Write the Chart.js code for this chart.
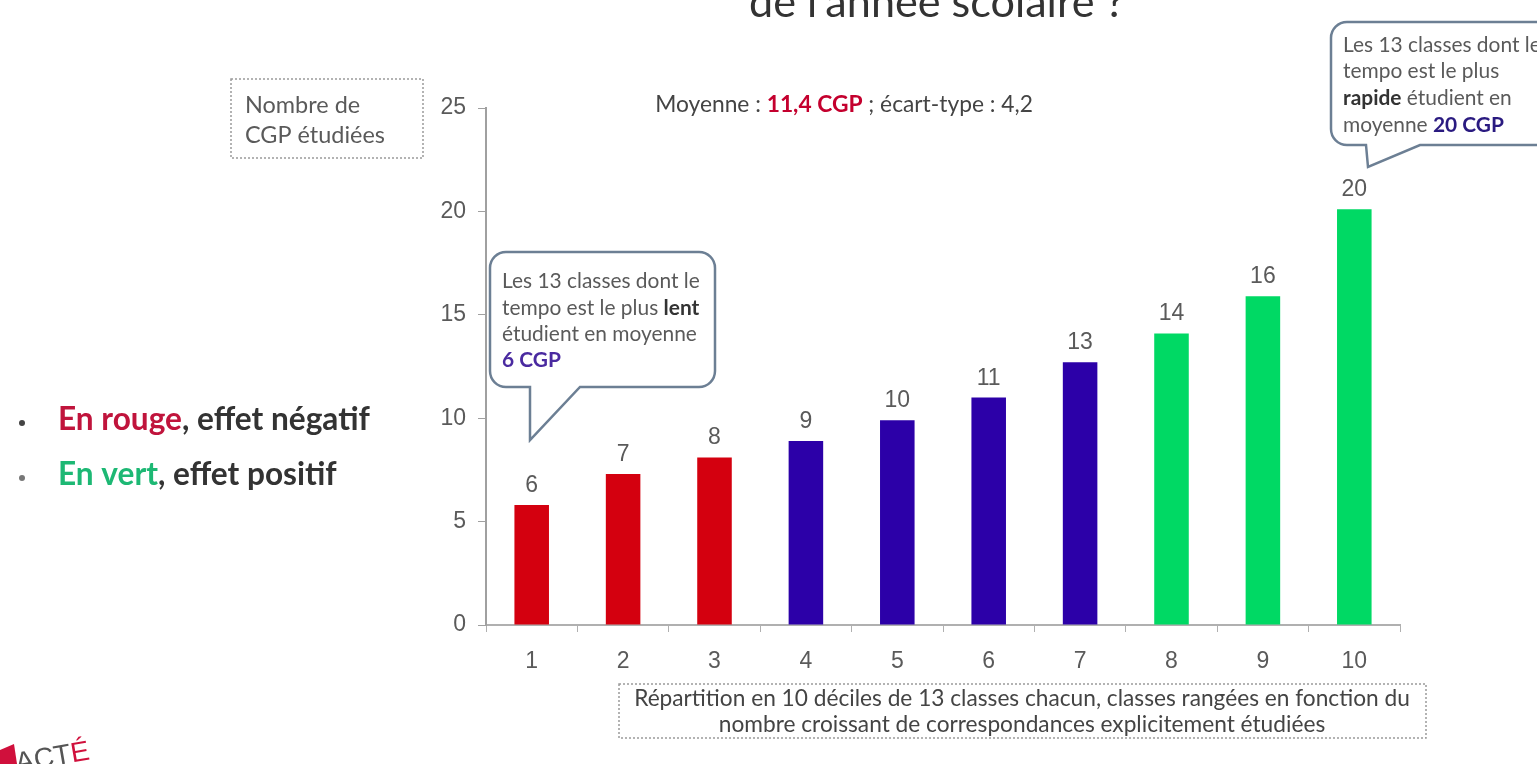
<!DOCTYPE html>
<html lang="fr">
<head>
<meta charset="utf-8">
<title>Nombre de CGP étudiées par décile</title>
<script src="https://cdn.jsdelivr.net/npm/chart.js@4.4.0/dist/chart.umd.min.js"></script>
<style>
    html, body { margin: 0; padding: 0; background: #fff; }
    #wrap { width: 1537px; height: 764px; position: relative; }
</style>
</head>
<body>
<div id="wrap"><canvas id="chart" width="1537" height="764"></canvas></div>
<script>
// data
const deciles = ['1', '2', '3', '4', '5', '6', '7', '8', '9', '10'];
const cgpValues = [5.8, 7.3, 8.1, 8.9, 9.9, 11.0, 12.7, 14.1, 15.9, 20.1];
const cgpLabels = ['6', '7', '8', '9', '10', '11', '13', '14', '16', '20'];
const decileEffects = ['neg', 'neg', 'neg', 'mid', 'mid', 'mid', 'mid', 'pos', 'pos', 'pos'];
const yMin = 0;
const yMax = 25;
const yStep = 5;

const effectColors = { neg: '#d4000f', mid: '#2c00a8', pos: '#00d964' };
const GREY = '#5a5a5a';
const DARK = '#333333';
const TEXT_FONT = 'Lato, "Open Sans", sans-serif';
const NUM_FONT = '"Liberation Sans", Arial, sans-serif';

// draws a line made of several styled runs, optionally squeezed to a width
function drawRuns(ctx, runs, x, y, size, align, fitWidth) {
    const fontOf = (r, s) => (r.bold ? 'bold ' : '') + s + 'px ' + TEXT_FONT;
    const measure = s => runs.reduce((w, r) => {
        ctx.font = fontOf(r, s);
        return w + ctx.measureText(r.t).width;
    }, 0);
    if (fitWidth) size = size * fitWidth / measure(size);
    const w = measure(size);
    let cx = align === 'center' ? x - w / 2 : (align === 'right' ? x - w : x);
    ctx.textAlign = 'left';
    ctx.textBaseline = 'alphabetic';
    runs.forEach(r => {
        ctx.font = fontOf(r, size);
        ctx.fillStyle = r.color || GREY;
        ctx.fillText(r.t, cx, y);
        cx += ctx.measureText(r.t).width;
    });
    return size;
}

function calloutPath(ctx, x, y, w, h, r, tail) {
    ctx.beginPath();
    ctx.moveTo(x + r, y);
    ctx.lineTo(x + w - r, y);
    ctx.arcTo(x + w, y, x + w, y + r, r);
    ctx.lineTo(x + w, y + h - r);
    ctx.arcTo(x + w, y + h, x + w - r, y + h, r);
    ctx.lineTo(tail.x2, y + h);
    ctx.lineTo(tail.tx, tail.ty);
    ctx.lineTo(tail.x1, y + h);
    ctx.lineTo(x + r, y + h);
    ctx.arcTo(x, y + h, x, y + h - r, r);
    ctx.lineTo(x, y + r);
    ctx.arcTo(x, y, x + r, y, r);
    ctx.closePath();
}

function dottedBox(ctx, x, y, w, h) {
    ctx.save();
    ctx.strokeStyle = '#9a9a9a';
    ctx.lineWidth = 1.5;
    ctx.setLineDash([2, 2]);
    ctx.strokeRect(x, y, w, h);
    ctx.restore();
}

const valueLabelPlugin = {
    id: 'valueLabels',
    afterDatasetsDraw(chart) {
        const ctx = chart.ctx;
        const meta = chart.getDatasetMeta(0);
        ctx.save();
        ctx.font = '23px ' + NUM_FONT;
        ctx.fillStyle = GREY;
        ctx.textAlign = 'center';
        ctx.textBaseline = 'alphabetic';
        meta.data.forEach((bar, i) => ctx.fillText(cgpLabels[i], bar.x, bar.y - 13));
        ctx.restore();
    }
};

const slideTextPlugin = {
    id: 'slideText',
    afterDraw(chart) {
        const ctx = chart.ctx;
        ctx.save();

        // title, cut by the top of the frame
        drawRuns(ctx, [{ t: "de l'année scolaire ?", color: DARK }], 749, 17, 32, 'left', 376);

        // y axis caption
        dottedBox(ctx, 231, 79, 192, 79);
        const capSize = drawRuns(ctx, [{ t: 'CGP étudiées' }], 245, 143, 18, 'left', 140);
        drawRuns(ctx, [{ t: 'Nombre de' }], 245, 113, capSize, 'left');

        // mean
        drawRuns(ctx, [
            { t: 'Moyenne : ', color: '#444' },
            { t: '11,4 CGP', bold: true, color: '#c4002e' },
            { t: ' ; écart-type : 4,2', color: '#444' }
        ], 844, 112, 22, 'center', 378);

        // callouts
        ctx.lineWidth = 2.5;
        ctx.strokeStyle = '#6c7f94';
        ctx.fillStyle = '#ffffff';
        calloutPath(ctx, 490, 252, 225, 135, 16, { x1: 530, x2: 580, tx: 530, ty: 440 });
        ctx.fill();
        ctx.stroke();
        calloutPath(ctx, 1331, 22, 260, 123, 16, { x1: 1366, x2: 1420, tx: 1368, ty: 167 });
        ctx.fill();
        ctx.stroke();

        const cs = drawRuns(ctx, [{ t: 'Les 13 classes dont le' }], 502, 288, 17, 'left', 198);
        drawRuns(ctx, [{ t: 'tempo est le plus ' }, { t: 'lent', bold: true, color: DARK }], 502, 315, cs, 'left');
        drawRuns(ctx, [{ t: 'étudient en moyenne' }], 502, 341, cs, 'left');
        drawRuns(ctx, [{ t: '6 CGP', bold: true, color: '#4a2aa0' }], 502, 367, cs, 'left');

        drawRuns(ctx, [{ t: 'Les 13 classes dont le' }], 1343, 52, cs, 'left');
        drawRuns(ctx, [{ t: 'tempo est le plus' }], 1343, 78, cs, 'left');
        drawRuns(ctx, [{ t: 'rapide', bold: true, color: DARK }, { t: ' étudient en' }], 1343, 105, cs, 'left');
        drawRuns(ctx, [{ t: 'moyenne ' }, { t: '20 CGP', bold: true, color: '#2a1a80' }], 1343, 132, cs, 'left');

        // x axis caption
        dottedBox(ctx, 619, 684, 807, 54);
        const xs = drawRuns(ctx, [{ t: 'Répartition en 10 déciles de 13 classes chacun, classes rangées en fonction du', color: '#444' }], 1022, 706, 17, 'center', 776);
        drawRuns(ctx, [{ t: 'nombre croissant de correspondances explicitement étudiées', color: '#444' }], 1022, 732, xs, 'center');

        // bullets
        ctx.fillStyle = '#444';
        ctx.beginPath();
        ctx.arc(22, 423, 3, 0, Math.PI * 2);
        ctx.fill();
        ctx.fillStyle = '#777';
        ctx.beginPath();
        ctx.arc(22, 478, 3, 0, Math.PI * 2);
        ctx.fill();
        const bs = drawRuns(ctx, [
            { t: 'En rouge', bold: true, color: '#c0143c' },
            { t: ', effet négatif', bold: true, color: DARK }
        ], 58, 430, 23, 'left', 312);
        drawRuns(ctx, [
            { t: 'En vert', bold: true, color: '#1db874' },
            { t: ', effet positif', bold: true, color: DARK }
        ], 58, 485, bs, 'left');

        // logo corner
        ctx.fillStyle = '#d0103c';
        ctx.beginPath();
        ctx.moveTo(0, 750);
        ctx.lineTo(14, 744);
        ctx.lineTo(17, 764);
        ctx.lineTo(0, 764);
        ctx.closePath();
        ctx.fill();
        ctx.translate(17, 772);
        ctx.rotate(-0.17);
        ctx.font = '28px ' + NUM_FONT;
        ctx.fillStyle = '#555';
        ctx.fillText('ACT', 0, 0);
        const aw = ctx.measureText('ACT').width;
        ctx.fillStyle = '#d0103c';
        ctx.fillText('É', aw, 0);

        ctx.restore();
    }
};

const canvas = document.getElementById('chart');
const chart = new Chart(canvas, {
    type: 'bar',
    data: {
        labels: deciles,
        datasets: [{
            data: cgpValues,
            backgroundColor: decileEffects.map(e => effectColors[e]),
            barPercentage: 0.9,
            categoryPercentage: 0.42
        }]
    },
    plugins: [valueLabelPlugin, slideTextPlugin],
    options: {
        responsive: false,
        animation: false,
        devicePixelRatio: 1,
        layout: { padding: { left: 426, right: 137, top: 108, bottom: 89 } },
        plugins: {
            legend: { display: false },
            tooltip: { enabled: false }
        },
        scales: {
            x: {
                grid: { drawOnChartArea: false, drawTicks: true, tickLength: 7, color: '#b0b0b0', offset: true },
                border: { color: '#b0b0b0', width: 2 },
                ticks: { color: GREY, font: { family: NUM_FONT, size: 23 }, padding: 16 },
                afterFit: s => { s.height = 50; }
            },
            y: {
                min: yMin,
                max: yMax,
                ticks: { stepSize: yStep, color: GREY, font: { family: NUM_FONT, size: 23 }, padding: 12 },
                grid: { drawOnChartArea: false, tickLength: 8, color: '#a0a0a0' },
                border: { color: '#a0a0a0', width: 2 },
                afterFit: s => { s.width = 60; }
            }
        }
    }
});
</script>
</body>
</html>
